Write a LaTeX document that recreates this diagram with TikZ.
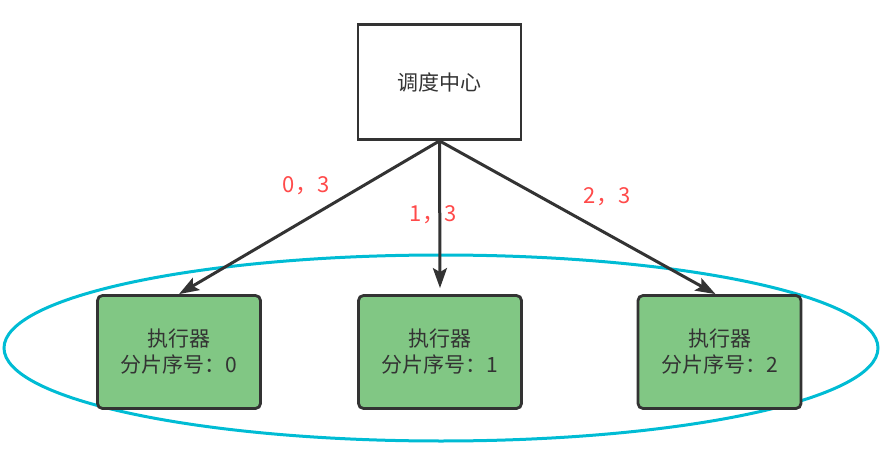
\documentclass[tikz,border=0pt]{standalone}
\usepackage{fontspec}
\newfontfamily\cjk{Noto Sans CJK SC}
\usepackage{tikz}
\usetikzlibrary{arrows.meta,shapes.geometric}
\definecolor{boxline}{HTML}{333333}
\definecolor{execfill}{HTML}{81C784}
\definecolor{groupline}{HTML}{00BCD4}
\definecolor{shardred}{HTML}{FF4A4A}

\begin{document}
\begin{tikzpicture}[x=1pt,y=1pt,>=Latex,
  box/.style={draw=boxline,line width=2.8pt,minimum width=163pt,minimum height=113pt,
    inner sep=0pt,font=\cjk\fontsize{21}{26}\selectfont,text=boxline,align=center},
  execbox/.style={box,fill=execfill,rounded corners=5pt},
  shardlbl/.style={font=\cjk\fontsize{22}{26}\selectfont,text=shardred},
  dispatch/.style={draw=boxline,line width=3pt,-{Stealth[length=20pt,width=14pt,inset=4pt]}}]
  \useasboundingbox (0,0) rectangle (886,456);

  % Executor group.
  \node[ellipse,draw=groupline,line width=3pt,minimum width=874pt,minimum height=186pt,
    inner sep=0pt] (group) at (441,108) {};

  % Scheduling center and executors.
  \node[box,minimum height=115pt] (center) at (439.5,374) {调度中心};
  \node[execbox] (exec0) at (179,104) {执行器\\分片序号：0};
  \node[execbox] (exec1) at (440,104) {执行器\\分片序号：1};
  \node[execbox] (exec2) at (719.5,104) {执行器\\分片序号：2};

  % Shard dispatch.
  \draw[dispatch] (center.south) -- (exec0.north);
  \draw[dispatch] (center.south) -- ([yshift=6pt]exec1.north);
  \draw[dispatch] (center.south) -- ([xshift=-4pt]exec2.north);

  % Shard labels.
  \node[shardlbl] (lbl0) at (306,270) {0，3};
  \node[shardlbl] (lbl1) at (433,241) {1，3};
  \node[shardlbl] (lbl2) at (607,259) {2，3};
\end{tikzpicture}
\end{document}
